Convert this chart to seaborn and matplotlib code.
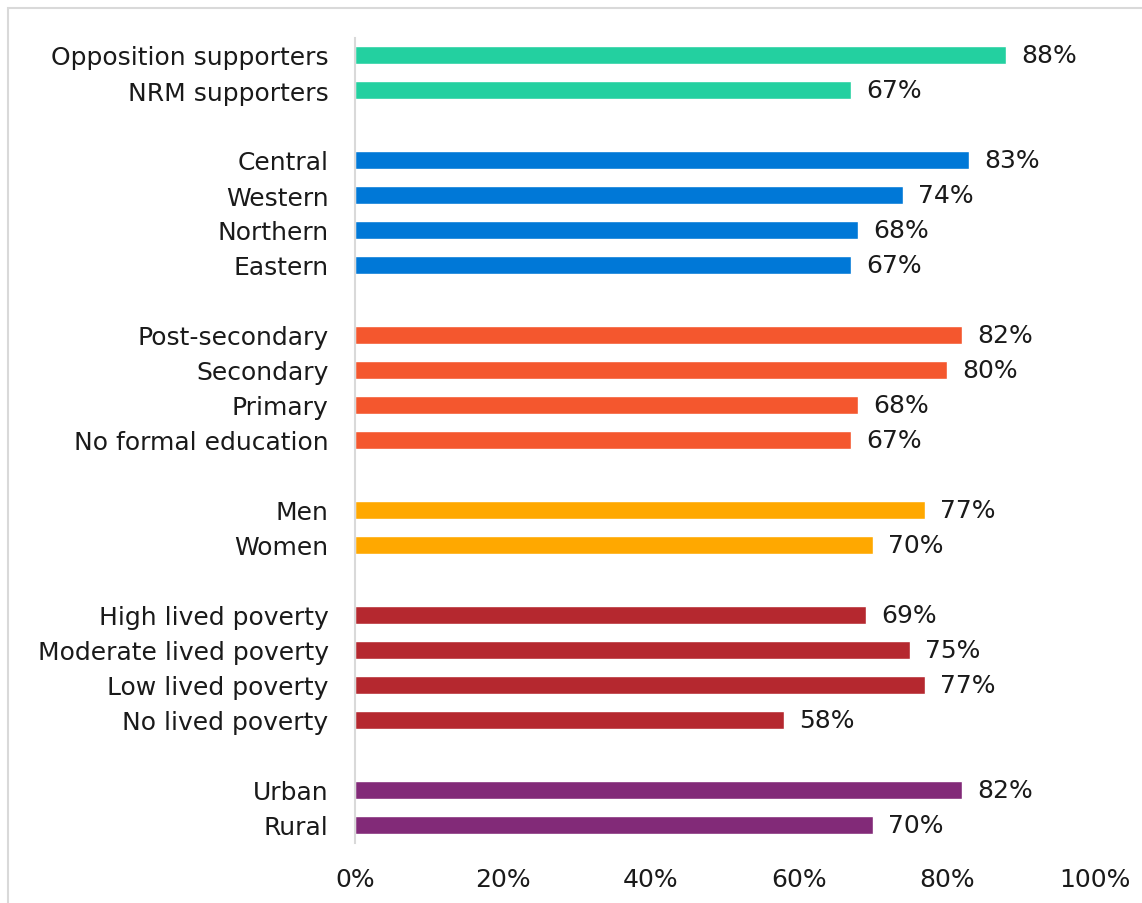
import matplotlib
matplotlib.use("Agg")
import matplotlib.pyplot as plt
from matplotlib.patches import Rectangle
from matplotlib.ticker import FuncFormatter
import seaborn as sns
import pandas as pd

# Share of respondents, by subgroup
labels = [
    "Opposition supporters", "NRM supporters",
    "Central", "Western", "Northern", "Eastern",
    "Post-secondary", "Secondary", "Primary", "No formal education",
    "Men", "Women",
    "High lived poverty", "Moderate lived poverty", "Low lived poverty", "No lived poverty",
    "Urban", "Rural",
]
values = [88, 67, 83, 74, 68, 67, 82, 80, 68, 67, 77, 70, 69, 75, 77, 58, 82, 70]
groups = (["party"] * 2 + ["region"] * 4 + ["education"] * 4 + ["gender"] * 2
          + ["poverty"] * 4 + ["location"] * 2)
group_colors = {
    "party": "#23D0A0",
    "region": "#0078D7",
    "education": "#F4572E",
    "gender": "#FFA800",
    "poverty": "#B5282F",
    "location": "#822A78",
}
x_ticks = [0, 20, 40, 60, 80, 100]

df = pd.DataFrame({"label": labels, "value": values, "group": groups})

# Category order with blank rows between the groups
order = []
prev = None
spacer = 0
for lab, grp in zip(labels, groups):
    if prev is not None and grp != prev:
        spacer += 1
        order.append(" " * spacer)
    order.append(lab)
    prev = grp

sns.set_theme(style="white")
plt.rcParams["font.family"] = ["DejaVu Sans"]

fig = plt.figure(figsize=(11.42, 9.04), dpi=100)
ax = fig.add_axes([355 / 1142, 1 - 843.5 / 904, (1095 - 355) / 1142, (843.5 - 38.5) / 904])

sns.barplot(data=df, x="value", y="label", hue="group", order=order,
            palette=group_colors, dodge=False, width=0.52, legend=False,
            saturation=1, ax=ax)

for cont in ax.containers:
    ax.bar_label(cont, labels=[f"{v:.0f}%" for v in cont.datavalues],
                 padding=11, fontsize=18, color="#1a1a1a")

ax.set_xlim(0, 100)
ax.set_ylim(len(order) - 0.5, -0.5)
ax.set_xticks(x_ticks)
ax.xaxis.set_major_formatter(FuncFormatter(lambda v, _: f"{v:.0f}%"))
ax.set_xlabel("")
ax.set_ylabel("")
ax.tick_params(axis="both", length=0, labelsize=18, labelcolor="#1a1a1a")
ax.tick_params(axis="x", pad=18)
ax.tick_params(axis="y", pad=19)

for side in ["top", "right", "bottom"]:
    ax.spines[side].set_visible(False)
ax.spines["left"].set_color("#D9D9D9")
ax.spines["left"].set_linewidth(1.5)

# Light frame around the chart area
fig.add_artist(Rectangle((8 / 1142, -0.1), 1.2, (904 - 9) / 904 + 0.1,
                         transform=fig.transFigure, fill=False,
                         edgecolor="#D9D9D9", linewidth=1.5))

fig.savefig("out.png", dpi=100, facecolor="white")
